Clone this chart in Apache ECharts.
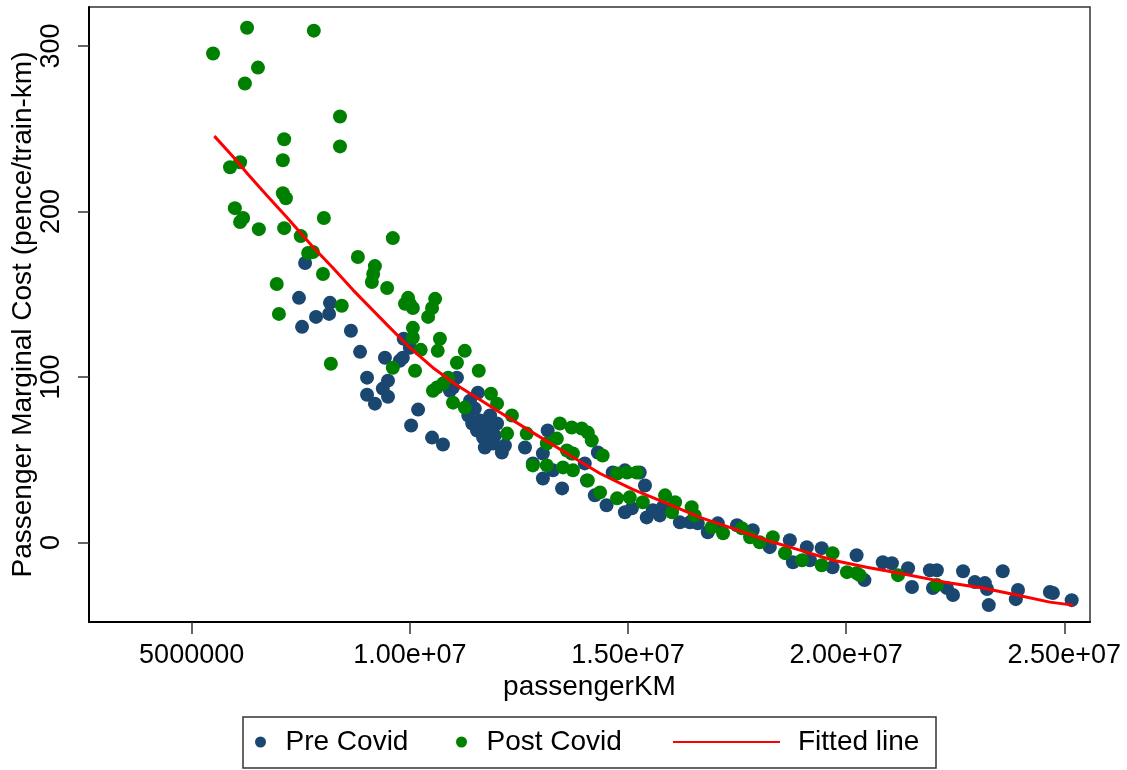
<!DOCTYPE html>
<html>
<head>
<meta charset="utf-8">
<title>Passenger Marginal Cost vs passengerKM</title>
<script src="https://cdn.jsdelivr.net/npm/echarts@6/dist/echarts.min.js"></script>
<style>
  html, body { margin: 0; padding: 0; background: #fff; }
  #chart { width: 1127px; height: 770px; }
</style>
</head>
<body>
<div id="chart"></div>
<script>
// Pre Covid observations: passenger-km and marginal cost (pence/train-km)
var preKM = [
  7.60e6, 7.46e6, 8.17e6, 8.15e6, 7.85e6, 7.53e6, 8.65e6, 8.86e6, 9.43e6, 9.77e6,
  9.86e6, 10.00e6, 9.84e6, 9.02e6, 9.50e6, 9.38e6, 9.02e6, 9.20e6, 9.50e6, 10.19e6,
  10.03e6, 10.51e6, 10.76e6, 11.08e6, 10.99e6, 11.56e6, 11.49e6, 11.43e6, 11.54e6, 11.77e6,
  12.00e6, 11.91e6, 12.11e6, 11.68e6, 12.64e6, 13.16e6, 12.82e6, 13.05e6, 13.05e6, 13.49e6,
  13.71e6, 14.01e6, 14.06e6, 14.31e6, 14.24e6, 14.65e6, 14.93e6, 15.27e6, 14.51e6, 15.09e6,
  15.43e6, 15.57e6, 15.39e6, 15.80e6, 16.19e6, 16.42e6, 16.60e6, 16.83e6, 17.06e6, 17.86e6,
  18.25e6, 18.71e6, 18.78e6, 19.10e6, 19.17e6, 19.44e6, 19.69e6, 20.24e6, 20.42e6, 20.84e6,
  21.05e6, 21.42e6, 21.51e6, 21.92e6, 22.08e6, 21.99e6, 22.31e6, 22.45e6, 22.68e6, 22.95e6,
  23.18e6, 23.23e6, 23.27e6, 23.59e6, 23.94e6, 23.89e6, 24.67e6, 24.74e6, 25.17e6,
  11.34e6, 11.84e6, 11.72e6, 10.92e6, 17.50e6, 11.38e6, 11.61e6, 11.95e6, 12.18e6, 14.93e6,
  15.73e6, 13.28e6
];
var preCost = [
  168.9, 147.8, 144.8, 138.1, 136.3, 130.3, 127.9, 115.2, 111.6, 109.8,
  123.1, 117.7, 111.6, 99.6, 97.8, 93.0, 89.3, 83.9, 88.1, 80.3,
  70.7, 63.4, 59.2, 99.6, 93.6, 90.5, 80.9, 71.9, 67.7, 69.5,
  71.9, 59.8, 54.4, 63.4, 57.4, 67.7, 47.8, 53.8, 38.7, 32.7,
  53.8, 47.8, 37.5, 54.4, 28.5, 42.3, 43.6, 42.3, 22.5, 20.7,
  15.2, 19.5, 34.5, 21.3, 12.2, 12.2, 11.6, 6.2, 11.6, 7.4,
  -2.8, 1.4, -11.9, -2.8, -10.7, -3.4, -14.9, -7.7, -22.7, -11.9,
  -12.5, -15.5, -26.9, -16.7, -16.7, -27.5, -27.5, -31.7, -17.3, -23.9,
  -24.5, -28.1, -37.8, -17.3, -28.7, -34.2, -29.9, -30.5, -34.8,
  76.7, 76.7, 57.4, 91.7, 10.4, 85.7, 73.7, 64.6, 58.6, 18.3,
  16.4, 43.6
];

// Post Covid observations
var postKM = [
  5.49e6, 6.27e6, 7.80e6, 6.52e6, 6.22e6, 8.40e6, 7.12e6, 8.40e6, 7.09e6, 6.11e6,
  5.88e6, 7.09e6, 7.16e6, 5.99e6, 6.18e6, 6.11e6, 8.03e6, 6.54e6, 7.12e6, 7.50e6,
  9.61e6, 7.78e6, 7.67e6, 8.81e6, 9.20e6, 9.16e6, 9.13e6, 8.01e6, 9.48e6, 6.95e6,
  9.96e6, 10.00e6, 10.07e6, 9.89e6, 10.58e6, 10.51e6, 10.42e6, 8.44e6, 7.00e6, 10.07e6,
  10.07e6, 10.69e6, 10.64e6, 10.25e6, 11.26e6, 11.08e6, 9.61e6, 10.12e6, 11.58e6, 10.62e6,
  10.76e6, 10.88e6, 10.53e6, 8.19e6, 10.99e6, 11.26e6, 11.86e6, 12.00e6, 12.34e6, 12.23e6,
  12.68e6, 13.44e6, 13.71e6, 13.94e6, 14.08e6, 14.17e6, 13.37e6, 13.14e6, 12.82e6, 13.14e6,
  13.60e6, 13.74e6, 13.51e6, 13.74e6, 14.42e6, 14.08e6, 14.36e6, 14.75e6, 14.98e6, 15.20e6,
  14.75e6, 15.04e6, 15.34e6, 15.85e6, 16.08e6, 16.46e6, 16.53e6, 16.01e6, 16.92e6, 17.18e6,
  17.61e6, 17.80e6, 18.02e6, 18.32e6, 18.60e6, 18.99e6, 19.44e6, 19.69e6, 20.02e6, 20.24e6,
  20.31e6, 21.19e6, 22.08e6
];
var postCost = [
  295.4, 311.0, 309.2, 286.9, 277.3, 257.4, 243.6, 239.3, 230.9, 229.7,
  226.7, 211.0, 208.0, 202.0, 196.0, 193.6, 196.0, 189.3, 189.9, 185.1,
  183.9, 175.5, 174.9, 172.5, 167.0, 162.2, 157.4, 162.2, 153.8, 156.2,
  147.8, 144.2, 141.7, 144.2, 147.2, 141.7, 136.3, 143.0, 138.1, 129.7,
  123.7, 123.1, 115.8, 116.4, 115.8, 108.6, 105.6, 103.8, 103.8, 93.6,
  96.0, 99.6, 91.7, 108.0, 84.5, 81.5, 89.9, 83.9, 76.7, 65.8,
  65.8, 71.9, 69.5, 68.9, 66.4, 61.6, 62.8, 59.8, 46.6, 46.6,
  55.6, 53.8, 45.4, 43.6, 52.6, 37.5, 30.3, 41.7, 42.3, 42.3,
  26.7, 27.3, 24.3, 28.5, 24.3, 21.3, 16.4, 18.3, 9.2, 5.6,
  8.6, 3.2, 0.2, 3.2, -6.4, -10.7, -13.7, -6.4, -17.9, -18.5,
  -19.7, -19.7, -25.7
];

// fitted line
var fitKM = [
  5.52e6, 5.95e6, 6.29e6, 6.73e6, 7.18e6, 7.78e6, 8.24e6, 8.70e6, 9.48e6, 10.00e6,
  10.53e6, 11.08e6, 11.61e6, 12.07e6, 12.82e6, 13.60e6, 14.36e6, 15.11e6, 15.89e6, 16.65e6,
  17.40e6, 18.18e6, 18.94e6, 19.70e6, 20.47e6, 21.23e6, 22.38e6, 23.13e6, 23.91e6, 24.67e6,
  25.20e6
];
var fitCost = [
  245.5, 233.0, 222.5, 209.5, 196.5, 178.5, 165.8, 152.5, 131.5, 117.7,
  105.6, 95.0, 86.2, 78.5, 66.4, 53.8, 41.7, 32.1, 23.7, 15.2,
  8.6, 1.4, -4.6, -10.7, -14.9, -18.5, -24.5, -27.5, -31.7, -36.0,
  -37.8
];

var xTicks = [5000000, 10000000, 15000000, 20000000, 25000000];
var xTickLabels = ['5000000', '1.00e+07', '1.50e+07', '2.00e+07', '2.50e+07'];
var yTicks = [0, 100, 200, 300];

function pairs(xs, ys) {
    return xs.map(function (x, i) { return [x, ys[i]]; });
}

var font = "'Liberation Sans', Arial, sans-serif";
var chart = echarts.init(document.getElementById('chart'));

var legendText = { fontFamily: font, fontSize: 28, color: '#000' };

var option = {
    animation: false,
    backgroundColor: '#fff',
    grid: {
        left: 89, top: 7, right: 37, bottom: 148,
        containLabel: false,
        outerBoundsMode: 'none',
        show: true, borderColor: '#333', borderWidth: 1.5
    },
    xAxis: {
        type: 'value',
        min: 2.647e6,
        max: 2.559e7,
        splitLine: { show: false },
        axisLine: { onZero: false, lineStyle: { color: '#000', width: 2 } },
        axisTick: { customValues: xTicks, length: 12, lineStyle: { color: '#333', width: 1.5 } },
        axisLabel: {
            customValues: xTicks,
            margin: 20,
            fontFamily: font, fontSize: 27, color: '#000',
            formatter: function (v) {
                var i = xTicks.indexOf(v);
                return i >= 0 ? xTickLabels[i] : '';
            }
        },
        name: 'passengerKM',
        nameLocation: 'middle',
        nameGap: 51,
        nameMoveOverlap: false,
        nameTextStyle: { fontFamily: font, fontSize: 28, color: '#000' }
    },
    yAxis: {
        type: 'value',
        min: -48,
        max: 323.5,
        splitLine: { show: false },
        axisLine: { show: true, onZero: false, lineStyle: { color: '#000', width: 2 } },
        axisTick: { show: true, customValues: yTicks, length: 11, lineStyle: { color: '#333', width: 1.5 } },
        axisLabel: {
            customValues: yTicks,
            rotate: 90,
            margin: 24,
            fontFamily: font, fontSize: 27, color: '#000'
        },
        name: 'Passenger Marginal Cost (pence/train-km)',
        nameLocation: 'middle',
        nameRotate: 90,
        nameGap: 52,
        nameMoveOverlap: false,
        nameTextStyle: { fontFamily: font, fontSize: 28, color: '#000' }
    },
    legend: [
        {
            data: ['Pre Covid'], left: 255, top: 728, padding: 0,
            itemWidth: 40, itemHeight: 11, icon: 'circle',
            selectedMode: false, textStyle: legendText
        },
        {
            data: ['Post Covid'], left: 456, top: 728, padding: 0,
            itemWidth: 40, itemHeight: 11, icon: 'circle',
            selectedMode: false, textStyle: legendText
        },
        {
            data: ['Fitted line'], left: 672, top: 728, padding: 0,
            itemWidth: 107, itemHeight: 11,
            selectedMode: false,
            itemStyle: { color: 'rgba(0,0,0,0)', borderColor: 'rgba(0,0,0,0)', borderWidth: 0 },
            textStyle: Object.assign({ padding: [0, 0, 0, 13] }, legendText)
        }
    ],
    graphic: [
        {
            type: 'rect',
            shape: { x: 243, y: 717, width: 693, height: 51 },
            style: { fill: 'none', stroke: '#333', lineWidth: 1.5 },
            silent: true
        }
    ],
    series: [
        {
            name: 'Pre Covid',
            type: 'scatter',
            data: pairs(preKM, preCost),
            symbol: 'circle',
            symbolSize: 14,
            itemStyle: { color: '#1a476f', opacity: 1 },
            z: 2
        },
        {
            name: 'Post Covid',
            type: 'scatter',
            data: pairs(postKM, postCost),
            symbol: 'circle',
            symbolSize: 14,
            itemStyle: { color: '#008000', opacity: 1 },
            z: 3
        },
        {
            name: 'Fitted line',
            type: 'line',
            data: pairs(fitKM, fitCost),
            symbol: 'none',
            showSymbol: false,
            lineStyle: { color: '#ff0000', width: 3 },
            z: 4
        }
    ]
};

chart.setOption(option);
</script>
</body>
</html>
